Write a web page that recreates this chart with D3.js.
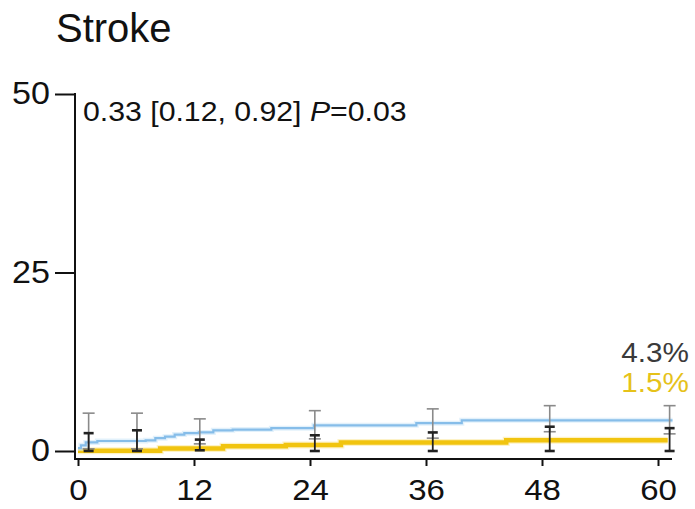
<!DOCTYPE html>
<html>
<head>
<meta charset="utf-8">
<script src="https://cdn.jsdelivr.net/npm/d3@7"></script>
<style>
  html, body { margin: 0; padding: 0; background: #fff; }
  svg { display: block; font-family: "Liberation Sans", Arial, sans-serif; }
</style>
</head>
<body>
<svg id="chart" width="695" height="509"></svg>
<script>
// Cumulative incidence of stroke (%) by month, two groups
const blueTimes  = [0, 0.3, 0.8, 2, 7, 8, 9, 10, 11, 12.5, 14, 16, 20, 24.4, 35, 39.7, 61.5];
const blueValues = [0.4, 0.8, 1.2, 1.4, 1.5, 1.8, 2.0, 2.3, 2.5, 2.6, 2.9, 3.0, 3.2, 3.6, 3.9, 4.3, 4.3];

const yellowTimes  = [0, 8.5, 15, 21.5, 27.2, 44.3, 61];
const yellowValues = [0.05, 0.35, 0.65, 0.85, 1.2, 1.5, 1.5];

// Confidence intervals at landmark times
const ciTimes  = [1.1, 6.1, 12.6, 24.5, 36.7, 48.8, 61.2];
const blueHi   = [5.3, 5.3, 4.5, 5.65, 5.9, 6.35, 6.35];
const blueLo   = [0.3, 0.3, 1.0, 1.7, 1.8, 2.7, 2.4];
const yellowHi = [2.5, 2.9, 1.6, 2.2, 2.6, 3.4, 3.2];
const yellowLo = [0, 0, 0.1, 0, 0, 0, 0];

const yTicks = [0, 25, 50];
const xTicks = [0, 12, 24, 36, 48, 60];
const endLabels = ["4.3%", "1.5%"];
const title = "Stroke";

const STRETCH = 1.1;   // slightly wide lettering
const svg = d3.select("#chart");

const x = d3.scaleLinear().domain([0, 60]).range([78, 658]);
const y = d3.scaleLinear().domain([0, 50]).range([451, 94]);
const axisY = 459;

// Title
svg.append("text")
  .attr("x", 56).attr("y", 42)
  .attr("font-size", 40).attr("fill", "#111")
  .text(title);

// Y axis
const yAxis = svg.append("g")
  .attr("transform", "translate(75,0)")
  .call(d3.axisLeft(y).tickValues(yTicks).tickSize(20).tickPadding(5).tickSizeOuter(0));
yAxis.select(".domain").remove();
yAxis.selectAll(".tick line").attr("stroke", "#111").attr("stroke-width", 2);
yAxis.selectAll(".tick text")
  .attr("font-size", 31).attr("fill", "#111")
  .attr("font-family", "Liberation Sans, Arial, sans-serif")
  .attr("x", -25 / STRETCH)
  .attr("transform", `scale(${STRETCH},1)`);
svg.append("line")
  .attr("x1", 75).attr("x2", 75)
  .attr("y1", y(50) - 1).attr("y2", axisY + 1)
  .attr("stroke", "#111").attr("stroke-width", 2);

// X axis
const xAxis = svg.append("g")
  .attr("transform", `translate(0,${axisY})`)
  .call(d3.axisBottom(x).tickValues(xTicks).tickSize(7).tickPadding(13).tickSizeOuter(0));
xAxis.select(".domain").remove();
xAxis.selectAll(".tick line").attr("stroke", "#111").attr("stroke-width", 2);
xAxis.selectAll(".tick text")
  .attr("font-size", 30).attr("fill", "#111")
  .attr("font-family", "Liberation Sans, Arial, sans-serif")
  .attr("transform", `scale(${STRETCH},1)`);
svg.append("line")
  .attr("x1", 74).attr("x2", 672)
  .attr("y1", axisY).attr("y2", axisY)
  .attr("stroke", "#111").attr("stroke-width", 2);

// Hazard ratio annotation
const ann = svg.append("text")
  .attr("transform", `translate(83,121) scale(${STRETCH},1)`)
  .attr("font-size", 27.5).attr("fill", "#111");
ann.append("tspan").text("0.33 [0.12, 0.92] ");
ann.append("tspan").attr("font-style", "italic").text("P");
ann.append("tspan").text("=0.03");

// Step curves
const line = d3.line()
  .x(d => x(d[0]))
  .y(d => y(d[1]))
  .curve(d3.curveStepAfter);

const blueData = blueTimes.map((t, i) => [t, blueValues[i]]);
const yellowData = yellowTimes.map((t, i) => [t, yellowValues[i]]);

svg.append("path").datum(yellowData)
  .attr("d", line).attr("fill", "none")
  .attr("stroke", "#fbeaa0").attr("stroke-width", 7).attr("opacity", 0.6);
svg.append("path").datum(yellowData)
  .attr("d", line).attr("fill", "none")
  .attr("stroke", "#f1c40f").attr("stroke-width", 4.5);

svg.append("path").datum(blueData)
  .attr("d", line).attr("fill", "none")
  .attr("stroke", "#d6ebfa").attr("stroke-width", 5).attr("opacity", 0.7);
svg.append("path").datum(blueData)
  .attr("d", line).attr("fill", "none")
  .attr("stroke", "#86bde9").attr("stroke-width", 2.2);

// Error bars
function errorBars(lo, hi, color, width, capHalf, capWidth) {
  const g = svg.append("g");
  ciTimes.forEach((t, i) => {
    const cx = x(t);
    g.append("line")
      .attr("x1", cx).attr("x2", cx)
      .attr("y1", y(hi[i])).attr("y2", y(lo[i]))
      .attr("stroke", color).attr("stroke-width", width);
    [hi[i], lo[i]].forEach(v => {
      g.append("line")
        .attr("x1", cx - capHalf).attr("x2", cx + capHalf)
        .attr("y1", y(v)).attr("y2", y(v))
        .attr("stroke", color).attr("stroke-width", capWidth);
    });
  });
}
errorBars(blueLo, blueHi, "#8a8a8a", 1.6, 6, 1.6);
errorBars(yellowLo, yellowHi, "#222", 1.8, 5, 2.6);

// End-of-follow-up percentages
svg.append("text")
  .attr("transform", `translate(689,362) scale(${STRETCH},1)`)
  .attr("text-anchor", "end")
  .attr("font-size", 27).attr("fill", "#3a3a3a")
  .text(endLabels[0]);
svg.append("text")
  .attr("transform", `translate(689,392) scale(${STRETCH},1)`)
  .attr("text-anchor", "end")
  .attr("font-size", 27).attr("fill", "#e6c21a")
  .text(endLabels[1]);
</script>
</body>
</html>
